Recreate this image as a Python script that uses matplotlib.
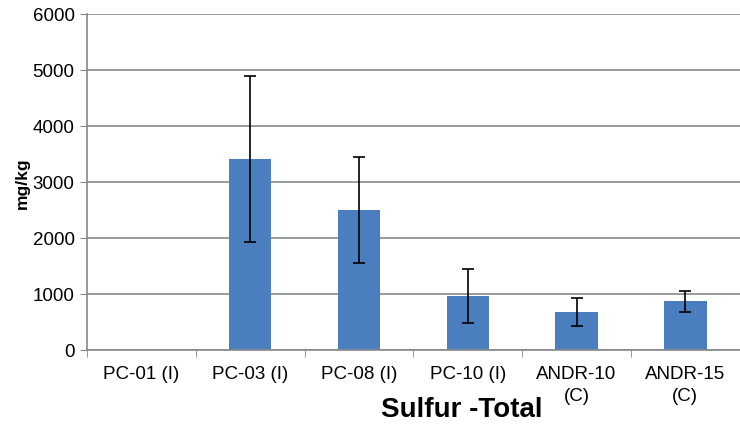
import numpy as np
import matplotlib.pyplot as plt

# Data
categories = ['PC-01 (I)', 'PC-03 (I)', 'PC-08 (I)', 'PC-10 (I)', 'ANDR-10\n(C)', 'ANDR-15\n(C)']
values = [0, 3410, 2500, 960, 670, 870]
errors = [0, 1490, 950, 480, 250, 190]
y_ticks = [0, 1000, 2000, 3000, 4000, 5000, 6000]

plt.rcParams['font.family'] = ['Liberation Sans', 'DejaVu Sans']

fig = plt.figure(figsize=(7.4, 4.27), dpi=100)
ax = fig.add_axes([0.1176, 0.178, 0.882, 0.787])

x = np.arange(len(categories))
err_shown = [e if e > 0 else np.nan for e in errors]
ax.bar(x, values, width=0.39, color='#4a7ebf', zorder=2)
ax.errorbar(x, values, yerr=err_shown, fmt='none', ecolor='black',
            elinewidth=1.2, capsize=4, capthick=1.2, zorder=3)

ax.set_xlim(-0.5, len(categories) - 0.5)
ax.set_ylim(0, 6000)
ax.set_yticks(y_ticks)
ax.set_yticklabels([str(t) for t in y_ticks], fontsize=13.5)
ax.set_xticks(x)
ax.set_xticklabels(categories, fontsize=13.5, linespacing=1.35)
ax.set_xticks(np.arange(len(categories) + 1) - 0.5, minor=True)
ax.tick_params(axis='x', which='major', length=0, pad=11)
ax.tick_params(axis='x', which='minor', length=5, color='#888888')
ax.tick_params(axis='y', length=5, color='#888888', pad=4)

ax.grid(axis='y', color='#8a8a8a', linewidth=1.2, zorder=0)
for s in ['top', 'right']:
    ax.spines[s].set_visible(False)
for s in ['left', 'bottom']:
    ax.spines[s].set_color('#888888')
    ax.spines[s].set_linewidth(1.2)

ax.set_ylabel('mg/kg', fontsize=12.5, fontweight='bold', labelpad=2)
fig.text(0.624, 0.04, 'Sulfur -Total', fontsize=20, fontweight='bold',
         ha='center', va='center')

plt.savefig('out.png', dpi=100)
